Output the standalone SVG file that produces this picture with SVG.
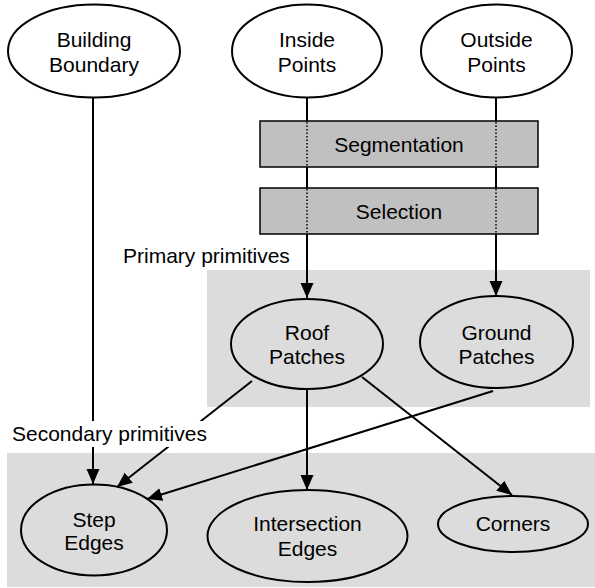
<svg xmlns="http://www.w3.org/2000/svg" width="595" height="588" viewBox="0 0 595 588">
<defs>
<style>
text{font-family:"Liberation Sans",Arial,sans-serif;font-size:21px;fill:#000;text-anchor:middle}
.node{fill:none;stroke:#000;stroke-width:2}
.box{fill:#c0c0c0;stroke:#000;stroke-width:1.5}
.region{fill:#dcdcdc;stroke:none}
.edge{stroke:#000;stroke-width:2;fill:none;marker-end:url(#arrow)}
.dot{stroke:#000;stroke-width:1.5;stroke-dasharray:1.5 2;fill:none}
.lbl{text-anchor:start}
</style>
<marker id="arrow" markerUnits="userSpaceOnUse" markerWidth="16" markerHeight="14" refX="15" refY="6.5" orient="auto">
<path d="M0,0 L15,6.5 L0,13 z" fill="#000"/>
</marker>
</defs>
<g id="regions">
<rect class="region" x="207" y="270" width="383" height="137"/>
<rect class="region" x="7" y="453" width="588" height="134"/>
</g>
<g id="connectors">
<line class="edge" x1="93" y1="98" x2="93" y2="484"/>
<line class="edge" x1="252" y1="381" x2="117" y2="487"/>
<line class="edge" x1="493" y1="391" x2="147" y2="499"/>
<line class="edge" x1="307" y1="389" x2="307" y2="490"/>
<line class="edge" x1="362" y1="377" x2="512" y2="495"/>
<line class="edge" x1="307" y1="98" x2="307" y2="298"/>
<line class="edge" x1="496" y1="98" x2="496" y2="296"/>
</g>
<g id="segmentation">
<rect class="box" x="260" y="121" width="278" height="46"/>
<line class="dot" x1="307" y1="122" x2="307" y2="166"/>
<line class="dot" x1="496" y1="122" x2="496" y2="166"/>
<text x="399" y="152">Segmentation</text>
</g>
<g id="selection">
<rect class="box" x="260" y="188" width="278" height="46"/>
<line class="dot" x1="307" y1="189" x2="307" y2="233"/>
<line class="dot" x1="496" y1="189" x2="496" y2="233"/>
<text x="399" y="219">Selection</text>
</g>
<g id="labels">
<text class="lbl" x="123" y="263">Primary primitives</text>
<rect x="10" y="421" width="202" height="26" fill="#fff"/>
<text class="lbl" x="12" y="441">Secondary primitives</text>
</g>
<g id="building-boundary">
<ellipse class="node" cx="94" cy="51" rx="86" ry="46.5"/>
<text x="94" y="47">Building</text>
<text x="94" y="72">Boundary</text>
</g>
<g id="inside-points">
<ellipse class="node" cx="307" cy="51" rx="75" ry="46.5"/>
<text x="307" y="47">Inside</text>
<text x="307" y="72">Points</text>
</g>
<g id="outside-points">
<ellipse class="node" cx="496.5" cy="51" rx="75.5" ry="46.5"/>
<text x="496.5" y="47">Outside</text>
<text x="496.5" y="72">Points</text>
</g>
<g id="roof-patches">
<ellipse class="node" cx="307" cy="344" rx="76" ry="45"/>
<text x="307" y="340">Roof</text>
<text x="307" y="364">Patches</text>
</g>
<g id="ground-patches">
<ellipse class="node" cx="496.5" cy="342" rx="76.5" ry="46"/>
<text x="496.5" y="340">Ground</text>
<text x="496.5" y="364">Patches</text>
</g>
<g id="step-edges">
<ellipse class="node" cx="94" cy="530" rx="73" ry="45.5"/>
<text x="94" y="527">Step</text>
<text x="94" y="550">Edges</text>
</g>
<g id="intersection-edges">
<ellipse class="node" cx="307.5" cy="536" rx="100" ry="46"/>
<text x="307.5" y="531">Intersection</text>
<text x="307.5" y="556">Edges</text>
</g>
<g id="corners">
<ellipse class="node" cx="513" cy="524" rx="75" ry="28"/>
<text x="513" y="531">Corners</text>
</g>
</svg>
